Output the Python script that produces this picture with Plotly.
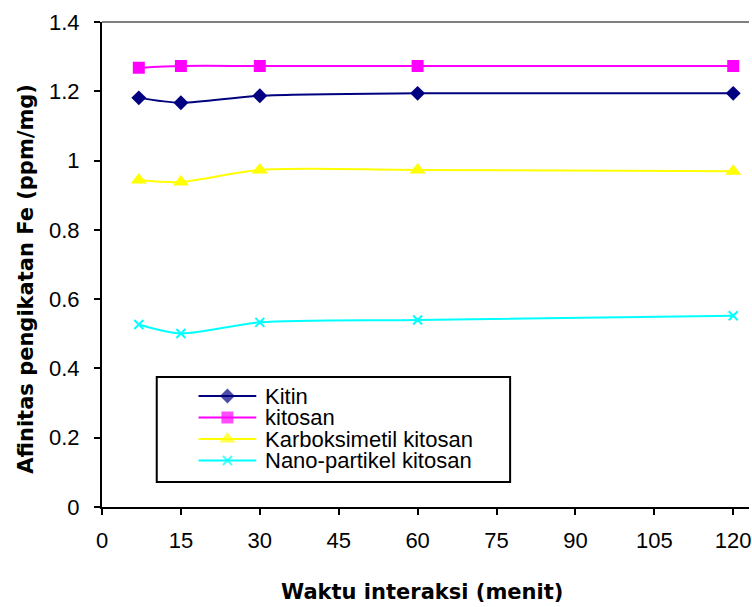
import plotly.graph_objects as go

# ---- data ----
waktu_menit = [7, 15, 30, 60, 120]
kitin = [1.181, 1.167, 1.187, 1.194, 1.194]
kitosan = [1.268, 1.273, 1.273, 1.273, 1.273]
karboksimetil = [0.944, 0.938, 0.973, 0.973, 0.969]
nano_partikel = [0.527, 0.501, 0.533, 0.540, 0.552]

series_names = ["Kitin", "kitosan", "Karboksimetil kitosan", "Nano-partikel kitosan"]
series_values = [kitin, kitosan, karboksimetil, nano_partikel]

x_ticks = [0, 15, 30, 45, 60, 75, 90, 105, 120]
y_ticks = [0, 0.2, 0.4, 0.6, 0.8, 1.0, 1.2, 1.4]
y_tick_text = ["0", "0.2", "0.4", "0.6", "0.8", "1", "1.2", "1.4"]

# ---- styles ----
FONT = "Liberation Sans, Arial, sans-serif"
TITLE_FONT = "DejaVu Sans, sans-serif"
colors = ["#000080", "#FF00FF", "#FFFF00", "#00FFFF"]
symbols = ["diamond", "square", "triangle-up", "x-thin"]
sizes = [11.5, 12, 14, 9]

fig = go.Figure()

for name, vals, c, s, sz in zip(series_names, series_values, colors, symbols, sizes):
    fig.add_trace(go.Scatter(
        x=waktu_menit, y=vals, name=name, mode="lines+markers",
        line=dict(color=c, width=2, shape="spline", smoothing=0.8),
        marker=dict(symbol=s, size=sz, color=c, line=dict(color=c, width=2 if s == "x-thin" else 0)),
        showlegend=False, cliponaxis=False,
    ))

# ---- manual legend (pixel-like overlay axes) ----
leg_left, leg_right, leg_top, leg_bottom = 157, 512, 377, 482
row0, row_gap = 396, 21.5
for i, (name, c, s, sz) in enumerate(zip(series_names, colors, symbols, sizes)):
    yy = row0 + i * row_gap
    fig.add_trace(go.Scatter(
        x=[199, 228, 257], y=[yy, yy, yy], mode="lines+markers", xaxis="x2", yaxis="y2",
        line=dict(color=c, width=2),
        marker=dict(symbol=s, size=[0, sz, 0], color=c,
                    line=dict(color=c, width=2 if s == "x-thin" else 0)),
        showlegend=False, hoverinfo="skip",
    ))
    fig.add_annotation(x=264, y=yy, xref="x2", yref="y2", text=name, showarrow=False,
                       xanchor="left", yanchor="middle",
                       font=dict(family=FONT, size=22, color="#000000"))

fig.add_shape(type="rect", xref="x2", yref="y2", x0=leg_left, x1=leg_right,
              y0=leg_top, y1=leg_bottom, line=dict(color="#000000", width=2),
              fillcolor="white", layer="below")

# top gray border
fig.add_shape(type="line", xref="paper", yref="paper", x0=0, x1=1, y0=1, y1=1,
              line=dict(color="#808080", width=2))

# axis titles
fig.add_annotation(text="<b>Afinitas pengikatan Fe (ppm/mg)</b>", xref="paper", yref="paper",
                   x=(25.5 - 102) / 650, y=(507 - 279) / 485, xanchor="center", yanchor="middle",
                   textangle=-90, showarrow=False, font=dict(family=TITLE_FONT, size=21, color="#000000"))
fig.add_annotation(text="<b>Waktu interaksi (menit)</b>", xref="paper", yref="paper",
                   x=(423 - 102) / 650, y=-(592 - 507) / 485, xanchor="center", yanchor="middle",
                   showarrow=False, font=dict(family=TITLE_FONT, size=21, color="#000000"))

fig.update_layout(
    width=752, height=607,
    margin=dict(l=102, r=0, t=22, b=100, pad=0),
    paper_bgcolor="white", plot_bgcolor="white",
    font=dict(family=FONT, size=22, color="#000000"),
    xaxis=dict(range=[0, 123], tickvals=x_ticks, ticktext=[str(v) for v in x_ticks],
               showgrid=False, zeroline=False, showline=True, linecolor="#000000", linewidth=2,
               ticks="outside", ticklen=6, tickwidth=2, tickcolor="#000000",
               tickfont=dict(family=FONT, size=22), ticklabelstandoff=7,
               ticklabeloverflow="allow"),
    yaxis=dict(range=[0, 1.4], tickvals=y_ticks, ticktext=y_tick_text,
               showgrid=False, zeroline=False, showline=True, linecolor="#000000", linewidth=2,
               ticks="outside", ticklen=6, tickwidth=2, tickcolor="#000000",
               tickfont=dict(family=FONT, size=22), ticklabelstandoff=10),
    xaxis2=dict(overlaying="x", range=[102, 752], visible=False, fixedrange=True),
    yaxis2=dict(overlaying="y", range=[507, 22], visible=False, fixedrange=True),
    showlegend=False,
)

fig.write_html("out.html")
